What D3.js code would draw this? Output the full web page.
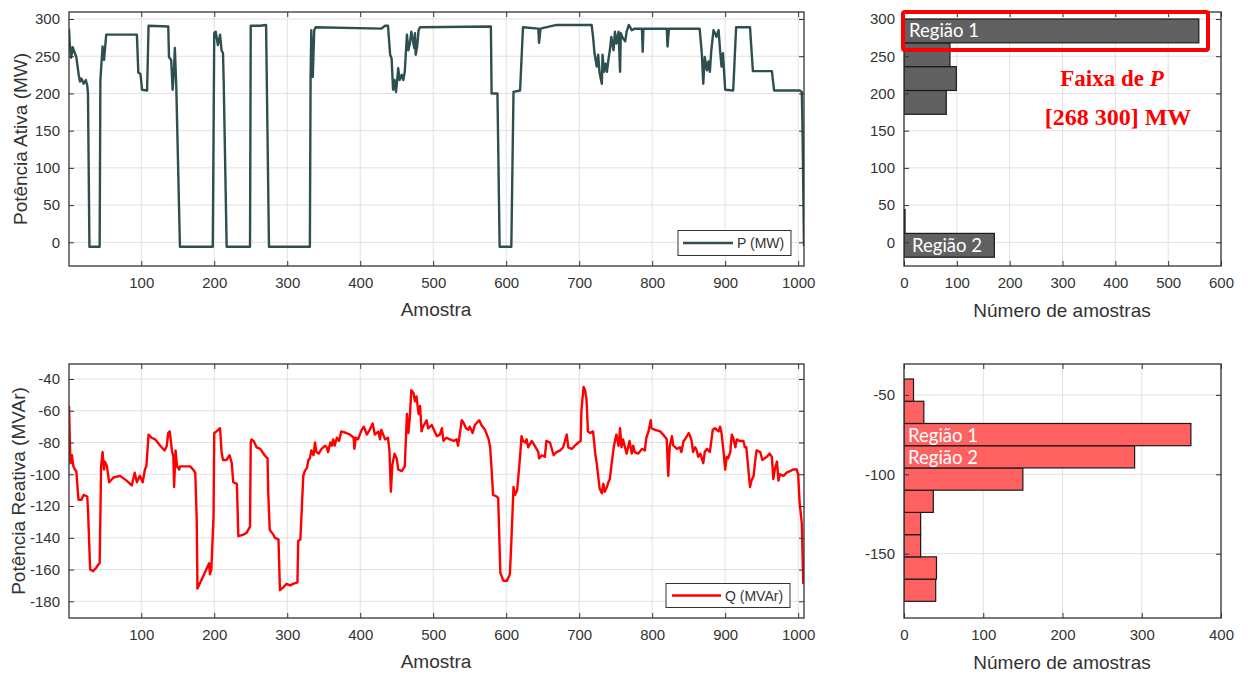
<!DOCTYPE html>
<html>
<head>
<meta charset="utf-8">
<script src="https://cdn.jsdelivr.net/npm/d3@7"></script>
<style>
  html, body { margin: 0; padding: 0; background: #ffffff; }
  svg { display: block; }
  text { font-family: "Liberation Sans", Arial, sans-serif; }
</style>
</head>
<body>
<svg id="chart" width="1247" height="673"></svg>
<script>
// ---------------- DATA ----------------
const pSample = [1,2,4,6,9,11,14,16,18,21,24,26,27,29,43,44,47,49,52,94,96,99,101,108,110,137,138,141,143,145,146,148,153,198,200,202,205,208,210,212,213,217,249,250,263,271,275,331,332,333,335,337,339,429,434,438,441,443,445,447,449,451,452,454,457,459,461,464,466,468,470,472,474,475,476,478,480,482,579,580,588,591,607,610,619,623,644,645,647,660,669,717,719,721,724,726,728,731,732,734,736,738,740,742,744,747,749,751,754,756,757,760,763,765,768,772,776,786,787,788,820,821,823,865,868,870,872,875,877,879,881,884,886,888,891,893,895,897,900,911,915,934,938,964,967,1002,1005,1006,1008];
const pValue = [287,267,248,262,254,249,227,216,220,213,218,211,200,-6,-6,218,263,245,279,279,228,226,205,204,291,290,249,245,205,236,261,209,-6,-6,281,283,265,279,258,254,213,-6,-6,291,291,292,-6,-6,222,285,222,285,289,287,291,291,252,247,205,218,202,222,234,218,225,218,229,279,258,267,283,272,261,281,252,263,285,289,290,200,200,-6,-6,202,204,289,287,268,287,290,292,292,276,254,236,252,227,213,252,229,240,229,245,258,276,258,283,267,283,229,281,274,270,283,292,285,287,287,256,287,287,263,287,287,254,213,249,231,243,229,258,285,281,276,285,258,236,254,205,204,289,289,230,230,204,204,202,150,-5];

const qSample = [1,2,3,5,7,9,11,14,18,21,26,27,30,34,38,41,43,45,47,49,50,53,56,62,71,80,87,91,94,98,102,105,107,110,114,119,126,132,135,137,139,142,144,145,147,149,152,153,167,171,174,176,177,180,185,190,193,194,196,199,200,203,208,210,212,217,221,224,226,231,233,240,244,249,250,251,254,258,263,269,273,274,276,281,283,288,290,295,299,304,308,314,315,318,322,324,327,329,331,333,336,338,340,343,347,352,354,356,359,361,363,365,368,371,374,381,386,391,392,394,397,402,405,409,413,417,420,425,427,429,434,438,440,442,444,447,450,452,457,461,464,466,468,470,473,475,477,480,482,484,486,491,493,498,502,505,509,512,514,518,523,528,532,534,537,539,541,545,548,550,554,557,563,566,571,576,578,580,582,587,589,592,596,601,605,607,610,612,615,619,621,623,626,628,630,635,639,644,645,649,653,655,660,665,669,674,678,683,685,690,694,699,702,703,706,708,710,712,715,719,722,724,726,728,731,733,735,738,740,742,744,747,749,751,754,756,758,760,765,769,772,774,776,781,786,790,792,795,798,799,804,811,815,820,822,824,827,829,834,838,840,843,845,850,852,854,856,859,861,863,866,868,870,872,875,879,883,886,891,893,895,898,900,902,904,907,909,911,914,916,920,925,927,929,934,936,939,941,943,948,951,957,961,964,966,968,971,973,975,980,984,989,993,998,1000,1002,1005,1007];
const qValue = [-57,-76,-93,-88,-95,-97,-98,-116,-116,-113,-114,-122,-160,-161,-159,-157,-156,-95,-86,-97,-92,-95,-105,-102,-101,-104,-107,-99,-105,-101,-105,-97,-95,-75,-77,-78,-82,-85,-82,-74,-73,-85,-89,-108,-85,-95,-97,-95,-95,-97,-99,-129,-172,-169,-164,-159,-156,-163,-160,-127,-74,-73,-71,-86,-91,-91,-88,-93,-105,-106,-139,-138,-137,-133,-80,-78,-79,-83,-84,-88,-90,-112,-135,-138,-140,-141,-173,-171,-169,-170,-169,-168,-142,-141,-101,-98,-96,-91,-90,-85,-88,-80,-86,-87,-84,-82,-83,-86,-80,-82,-78,-82,-77,-79,-73,-74,-75,-77,-84,-77,-78,-72,-70,-75,-72,-68,-75,-73,-78,-72,-78,-77,-85,-111,-94,-87,-90,-97,-98,-95,-62,-74,-64,-47,-49,-54,-51,-62,-57,-73,-70,-66,-71,-69,-73,-76,-75,-71,-79,-77,-78,-79,-78,-82,-73,-66,-67,-71,-72,-70,-74,-69,-66,-69,-72,-78,-83,-97,-113,-114,-115,-162,-167,-167,-163,-143,-108,-113,-110,-89,-76,-79,-80,-78,-83,-79,-82,-86,-90,-88,-89,-79,-80,-88,-86,-85,-83,-75,-83,-84,-82,-80,-79,-60,-45,-47,-53,-73,-74,-73,-87,-93,-101,-109,-112,-106,-111,-108,-105,-103,-95,-84,-79,-75,-82,-71,-83,-78,-87,-79,-87,-82,-86,-87,-84,-85,-77,-73,-66,-71,-72,-73,-75,-78,-101,-83,-76,-82,-84,-83,-86,-79,-78,-74,-76,-79,-86,-83,-85,-89,-87,-90,-93,-86,-84,-86,-72,-71,-73,-70,-74,-87,-97,-89,-90,-86,-75,-77,-83,-78,-79,-79,-83,-83,-108,-104,-101,-92,-85,-86,-91,-89,-87,-89,-103,-97,-92,-104,-100,-101,-99,-98,-97,-97,-100,-118,-131,-169];

// histogram of P (bin edges in MW, counts per bin)
const pBinEdges = [-20,12,44,76,108,140,172,204,236,268,300];
const pCounts   = [171,2,0,0,0,0,80,99,87,558];
// histogram of Q (bin edges in MVAr, counts per bin)
const qBinEdges = [-180,-166,-152,-138,-124,-110,-96,-82,-68,-54,-40];
const qCounts   = [40,41,21,21,37,150,291,362,25,12];

// tick labels
const sampleTicks = [100,200,300,400,500,600,700,800,900,1000];
const pTicks = [0,50,100,150,200,250,300];
const qTicks = [-180,-160,-140,-120,-100,-80,-60,-40];
const pHistCountTicks = [0,100,200,300,400,500,600];
const qHistCountTicks = [0,100,200,300,400];
const qHistValueTicks = [-150,-100,-50];

// ---------------- DRAWING ----------------
const svg = d3.select("#chart");
svg.append("rect").attr("width",1247).attr("height",673).attr("fill","#fff");

const AX = "#333333", GRID = "#e1e1e1";
const TICKFONT = 15, LABELFONT = 19;

function panel(opt){
  const {x, y, xTicks, yTicks, id} = opt;
  const [x0,x1] = x.range(), [y0,y1] = y.range(); // y0 bottom, y1 top
  const g = svg.append("g");
  g.append("g").selectAll("line").data(xTicks).join("line")
    .attr("x1",d=>x(d)).attr("x2",d=>x(d)).attr("y1",y0).attr("y2",y1)
    .attr("stroke",GRID).attr("stroke-width",1);
  g.append("g").selectAll("line").data(yTicks).join("line")
    .attr("y1",d=>y(d)).attr("y2",d=>y(d)).attr("x1",x0).attr("x2",x1)
    .attr("stroke",GRID).attr("stroke-width",1);
  svg.append("clipPath").attr("id",id).append("rect")
    .attr("x",x0).attr("y",y1).attr("width",x1-x0).attr("height",y0-y1);
  const content = svg.append("g").attr("clip-path",`url(#${id})`);
  const front = svg.append("g");
  const style = sel => {
    sel.select(".domain").remove();
    sel.selectAll(".tick line").attr("stroke",AX).attr("stroke-width",1);
    sel.selectAll(".tick text").attr("fill",AX).style("font-size",TICKFONT+"px")
      .style("font-family",'"Liberation Sans", Arial, sans-serif');
  };
  front.append("g").attr("transform",`translate(0,${y0})`)
    .call(d3.axisBottom(x).tickValues(xTicks).tickSize(-5).tickPadding(11).tickFormat(d3.format("d"))).call(style);
  front.append("g").attr("transform",`translate(0,${y1})`)
    .call(d3.axisTop(x).tickValues(xTicks).tickSize(-5).tickFormat("")).call(style);
  front.append("g").attr("transform",`translate(${x0},0)`)
    .call(d3.axisLeft(y).tickValues(yTicks).tickSize(-5).tickPadding(9).tickFormat(d3.format("d"))).call(style);
  front.append("g").attr("transform",`translate(${x1},0)`)
    .call(d3.axisRight(y).tickValues(yTicks).tickSize(-5).tickFormat("")).call(style);
  front.append("rect").attr("x",x0).attr("y",y1).attr("width",x1-x0).attr("height",y0-y1)
    .attr("fill","none").attr("stroke",AX).attr("stroke-width",1.3);
  front.selectAll(".tick text").text(function(){ return d3.select(this).text().replace("−","-"); });
  return {content, front};
}

// ---- top-left: P time series
const xS1 = d3.scaleLinear().domain([1,1008]).range([69,804]);
const yP = d3.scaleLinear().domain([-31.8,309.4]).range([266,12]);
const pP = panel({x:xS1, y:yP, xTicks:sampleTicks, yTicks:pTicks, id:"c1"});
const pData = pSample.map((s,i)=>[s,pValue[i]]);
pP.content.append("path").datum(pData)
  .attr("d", d3.line().x(d=>xS1(d[0])).y(d=>yP(d[1])))
  .attr("fill","none").attr("stroke","#2e4f4f").attr("stroke-width",2.4).attr("stroke-linejoin","round");
const lgP = pP.front.append("g");
lgP.append("rect").attr("x",678).attr("y",230.5).attr("width",113).attr("height",25)
  .attr("fill","#fff").attr("stroke",AX).attr("stroke-width",1);
lgP.append("line").attr("x1",683).attr("x2",733).attr("y1",243).attr("y2",243)
  .attr("stroke","#2e4f4f").attr("stroke-width",2.4);
lgP.append("text").attr("x",737).attr("y",248).text("P (MW)").attr("fill",AX).style("font-size","14px");

// ---- bottom-left: Q time series
const xS2 = d3.scaleLinear().domain([1,1008]).range([69,804]);
const yQ = d3.scaleLinear().domain([-190.5,-30.55]).range([618,364]);
const pQ = panel({x:xS2, y:yQ, xTicks:sampleTicks, yTicks:qTicks, id:"c2"});
const qData = qSample.map((s,i)=>[s,qValue[i]]);
pQ.content.append("path").datum(qData)
  .attr("d", d3.line().x(d=>xS2(d[0])).y(d=>yQ(d[1])))
  .attr("fill","none").attr("stroke","#ff0000").attr("stroke-width",2.4).attr("stroke-linejoin","round");
const lgQ = pQ.front.append("g");
lgQ.append("rect").attr("x",666).attr("y",583.5).attr("width",124).attr("height",24)
  .attr("fill","#fff").attr("stroke",AX).attr("stroke-width",1);
lgQ.append("line").attr("x1",672).attr("x2",721).attr("y1",595.5).attr("y2",595.5)
  .attr("stroke","#ff0000").attr("stroke-width",2.4);
lgQ.append("text").attr("x",725).attr("y",600.5).text("Q (MVAr)").attr("fill",AX).style("font-size","14px");

// ---- top-right: histogram P
const xHP = d3.scaleLinear().domain([0,600]).range([904,1221]);
const yHP = d3.scaleLinear().domain([-31.8,309.4]).range([266,12]);
const hP = panel({x:xHP, y:yHP, xTicks:pHistCountTicks, yTicks:pTicks, id:"c3"});
const pBins = pCounts.map((c,i)=>({lo:pBinEdges[i], hi:pBinEdges[i+1], c}));
hP.content.selectAll("rect.bar").data(pBins.filter(b=>b.c>0)).join("rect")
  .attr("x",xHP(0)).attr("width",d=>xHP(d.c)-xHP(0))
  .attr("y",d=>yHP(d.hi)).attr("height",d=>yHP(d.lo)-yHP(d.hi))
  .attr("fill","#616161").attr("stroke","#1a1a1a").attr("stroke-width",1.2);

// ---- bottom-right: histogram Q
const xHQ = d3.scaleLinear().domain([0,400]).range([904,1221]);
const yHQ = d3.scaleLinear().domain([-190.5,-30.55]).range([618,364]);
const hQ = panel({x:xHQ, y:yHQ, xTicks:qHistCountTicks, yTicks:qHistValueTicks, id:"c4"});
const qBins = qCounts.map((c,i)=>({lo:qBinEdges[i], hi:qBinEdges[i+1], c}));
hQ.content.selectAll("rect.bar").data(qBins).join("rect")
  .attr("x",xHQ(0)).attr("width",d=>xHQ(d.c)-xHQ(0))
  .attr("y",d=>yHQ(d.hi)).attr("height",d=>yHQ(d.lo)-yHQ(d.hi))
  .attr("fill","#ff6161").attr("stroke","#1a1a1a").attr("stroke-width",1.2);

// ---- axis labels
const lab = (x,y,t,rot) => {
  const tx = svg.append("text").attr("text-anchor","middle").attr("fill",AX)
    .style("font-size",LABELFONT+"px").text(t);
  if(rot) tx.attr("transform",`translate(${x},${y}) rotate(-90)`); else tx.attr("x",x).attr("y",y);
};
lab(436,316,"Amostra");
lab(436,668,"Amostra");
lab(1062,317,"Número de amostras");
lab(1062,669,"Número de amostras");
lab(27,139,"Potência Ativa (MW)",true);
lab(25,491,"Potência Reativa (MVAr)",true);

// ---- annotations
const ann = svg.append("g");
const regionText = (x,y,t)=> ann.append("text").attr("x",x).attr("y",y).text(t)
  .attr("fill","#ffffff").style("font-size","18.5px").style("font-family",'Lato, "Open Sans", sans-serif');
regionText(909,37,"Região 1");
regionText(912,252,"Região 2");
regionText(908,442,"Região 1");
regionText(908,464,"Região 2");
ann.append("rect").attr("x",903).attr("y",12).attr("width",305).attr("height",38).attr("rx",2)
  .attr("fill","none").attr("stroke","#ff0000").attr("stroke-width",4);
const f1 = ann.append("text").attr("x",1112).attr("y",86).attr("text-anchor","middle")
  .attr("fill","#ff0000").style("font-family",'"Liberation Serif", "DejaVu Serif", serif')
  .style("font-weight","bold").style("font-size","23px");
f1.append("tspan").text("Faixa de ");
f1.append("tspan").text("P").style("font-style","italic");
ann.append("text").attr("x",1118).attr("y",125).attr("text-anchor","middle")
  .attr("fill","#ff0000").style("font-family",'"Liberation Serif", "DejaVu Serif", serif')
  .style("font-weight","bold").style("font-size","24px").text("[268 300] MW");
</script>
</body>
</html>
